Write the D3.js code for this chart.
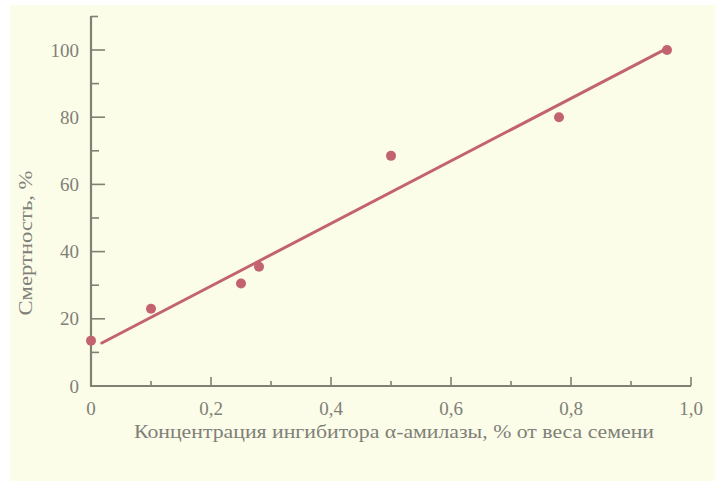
<!DOCTYPE html>
<html><head><meta charset="utf-8">
<script src="https://cdn.jsdelivr.net/npm/d3@7"></script>
<style>html,body{margin:0;padding:0;background:#fff;}</style>
</head><body>
<svg id="chart" width="723" height="483"></svg>
<script>
const concentration = [0, 0.1, 0.25, 0.28, 0.5, 0.78, 0.96];
const mortality = [13.5, 23, 30.5, 35.5, 68.5, 80, 100];
const fitX = [0.018, 0.96];
const fitY = [12.8, 100.5];
const xTicks = [0, 0.2, 0.4, 0.6, 0.8, 1.0];
const xTickLabels = ["0", "0,2", "0,4", "0,6", "0,8", "1,0"];
const yTicks = [0, 20, 40, 60, 80, 100];
const xLabel = "Концентрация ингибитора α-амилазы, % от веса семени";
const yLabel = "Смертность, %";

const svg = d3.select("#chart");
const x = d3.scaleLinear().domain([0, 1]).range([91, 691]);
const y = d3.scaleLinear().domain([0, 100]).range([386, 50]);
const axisCol = "#7f8174", textCol = "#808078", red = "#c2636f";
const font = "'Liberation Serif', 'DejaVu Serif', serif";

svg.append("rect").attr("x", 10).attr("y", 5).attr("width", 705).attr("height", 476).attr("fill", "#fbfde8");

// y axis
const gy = svg.append("g").attr("transform", `translate(${x(0)},0)`);
gy.append("line").attr("x1", 0).attr("x2", 0).attr("y1", y(0)).attr("y2", 16).attr("stroke", axisCol).attr("stroke-width", 2.2);
gy.append("line").attr("x1", 0).attr("x2", 7).attr("y1", 16.5).attr("y2", 16.5).attr("stroke", axisCol).attr("stroke-width", 1.6);
gy.selectAll(".yt").data(d3.range(10, 101, 10)).join("line")
  .attr("x1", 0).attr("x2", d => d % 20 === 0 ? 14 : 8)
  .attr("y1", d => y(d)).attr("y2", d => y(d)).attr("stroke", axisCol).attr("stroke-width", 1.6);
gy.selectAll(".yl").data(yTicks).join("text")
  .attr("x", -12).attr("y", d => y(d)).attr("dy", "0.35em").attr("text-anchor", "end")
  .attr("font-family", font).attr("font-size", 19).attr("fill", textCol).text(d => d);

// x axis
const gx = svg.append("g");
gx.append("line").attr("x1", x(0) - 1).attr("x2", x(1)).attr("y1", y(0)).attr("y2", y(0)).attr("stroke", axisCol).attr("stroke-width", 2.2);
gx.append("line").attr("x1", x(1)).attr("x2", x(1)).attr("y1", y(0)).attr("y2", y(0) - 9).attr("stroke", axisCol).attr("stroke-width", 1.6);
gx.selectAll(".xt").data(d3.range(1, 10).map(d => d / 10)).join("line")
  .attr("x1", d => x(d)).attr("x2", d => x(d))
  .attr("y1", y(0)).attr("y2", (d, i) => y(0) - ((i % 2 === 1) ? 9 : 5))
  .attr("stroke", axisCol).attr("stroke-width", 1.6);
gx.selectAll(".xl").data(xTicks).join("text")
  .attr("x", d => x(d)).attr("y", 415).attr("text-anchor", "middle")
  .attr("font-family", font).attr("font-size", 19).attr("fill", textCol).text((d, i) => xTickLabels[i]);

svg.append("text").attr("x", 394).attr("y", 438).attr("text-anchor", "middle")
  .attr("font-family", font).attr("font-size", 18).attr("fill", textCol)
  .attr("textLength", 520).attr("lengthAdjust", "spacingAndGlyphs").text(xLabel);
svg.append("text").attr("transform", "translate(32,243) rotate(-90)").attr("text-anchor", "middle")
  .attr("font-family", font).attr("font-size", 18).attr("fill", textCol)
  .attr("textLength", 145).attr("lengthAdjust", "spacingAndGlyphs").text(yLabel);

// fit line
svg.append("path").datum(fitX.map((d, i) => [d, fitY[i]]))
  .attr("d", d3.line().x(d => x(d[0])).y(d => y(d[1])))
  .attr("fill", "none").attr("stroke", red).attr("stroke-width", 3).attr("stroke-linecap", "round");

// points
svg.selectAll(".pt").data(concentration).join("circle")
  .attr("cx", d => x(d)).attr("cy", (d, i) => y(mortality[i])).attr("r", 5)
  .attr("fill", red);
</script>
</body></html>
